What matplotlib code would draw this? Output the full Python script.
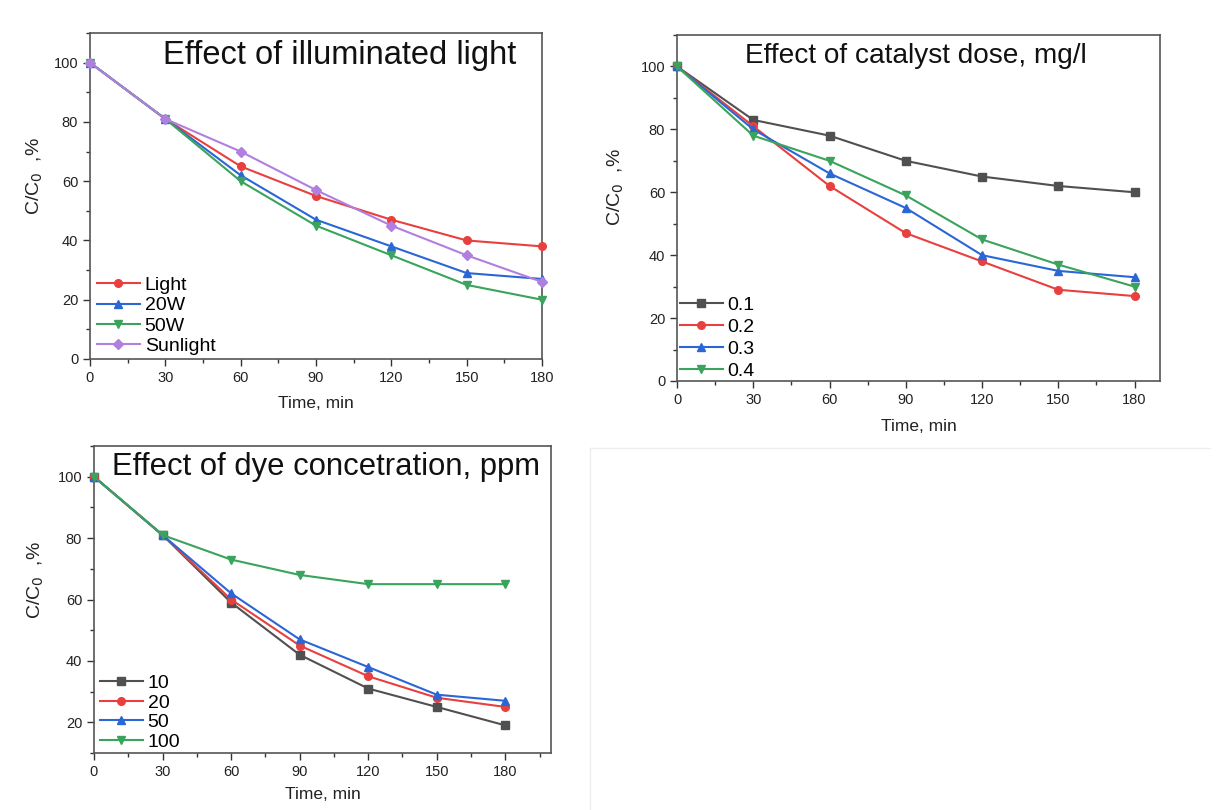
import matplotlib.pyplot as plt
from matplotlib.ticker import MultipleLocator
from matplotlib.lines import Line2D

# reaction time, min
time = [0, 30, 60, 90, 120, 150, 180]

# effect of illuminated light
light = [100, 81, 65, 55, 47, 40, 38]
w20 = [100, 81, 62, 47, 38, 29, 27]
w50 = [100, 81, 60, 45, 35, 25, 20]
sunlight = [100, 81, 70, 57, 45, 35, 26]

# effect of catalyst dose, mg/l
dose_01 = [100, 83, 78, 70, 65, 62, 60]
dose_02 = [100, 81, 62, 47, 38, 29, 27]
dose_03 = [100, 80, 66, 55, 40, 35, 33]
dose_04 = [100, 78, 70, 59, 45, 37, 30]

# effect of dye concentration, ppm
ppm_10 = [100, 81, 59, 42, 31, 25, 19]
ppm_20 = [100, 81, 60, 45, 35, 28, 25]
ppm_50 = [100, 81, 62, 47, 38, 29, 27]
ppm_100 = [100, 81, 73, 68, 65, 65, 65]

GREY = '#505050'
RED = '#e8403f'
BLUE = '#2a66d6'
GREEN = '#3aa35c'
PURPLE = '#b07fe0'

plt.rcParams['font.family'] = ['Liberation Sans', 'DejaVu Sans']

fig = plt.figure(figsize=(12.19, 8.10), dpi=100)

# faint separators seen in the source image
fig.add_artist(Line2D([590/1219, 1210/1219], [1 - 448/810, 1 - 448/810], color='#eeeeee', lw=1))
fig.add_artist(Line2D([590/1219, 590/1219], [0, 1 - 448/810], color='#eeeeee', lw=1))


def style_axes(ax, xmax, ymin, lx, ly, xpad):
    ax.set_xlim(0, xmax)
    ax.set_ylim(ymin, 110)
    ax.set_xticks(time)
    ax.xaxis.set_minor_locator(MultipleLocator(15))
    ax.set_yticks([v for v in range(0, 101, 20) if v >= ymin])
    ax.yaxis.set_minor_locator(MultipleLocator(10))
    ax.tick_params(which='both', direction='out', top=False, right=False,
                   colors='#333333', labelsize=10.5, labelcolor='#222222')
    ax.tick_params(which='major', length=5, width=1)
    ax.tick_params(which='minor', length=3, width=1)
    for s in ax.spines.values():
        s.set_color('#555555')
        s.set_linewidth(1.2)
    ax.set_xlabel('Time, min', fontsize=12.5, color='#222222', labelpad=xpad)
    ax.set_ylabel('C/C$_0$  ,%', fontsize=14, color='#222222', va='center')
    ax.yaxis.set_label_coords(lx, ly)


def draw(ax, series, title, tx, ty, tsize, lspace, lx, ly):
    for vals, lab, col, mk in series:
        ax.plot(time, vals, color=col, marker=mk, markersize=5.5, lw=1.5,
                label=lab, clip_on=False, zorder=3)
    ax.text(tx, ty, title, transform=ax.transAxes, fontsize=tsize,
            ha='center', va='center', color='#111111')
    ax.legend(loc='lower left', frameon=False, fontsize=14, handlelength=2.2,
              handletextpad=0.25, labelspacing=lspace, borderaxespad=0,
              borderpad=0, bbox_to_anchor=(lx, ly))


ax1 = fig.add_axes([90/1219, 1 - 359/810, 452/1219, 326/810])
style_axes(ax1, 180, 0, -0.122, 0.561, 8)
draw(ax1, [(light, 'Light', RED, 'o'), (w20, '20W', BLUE, '^'),
           (w50, '50W', GREEN, 'v'), (sunlight, 'Sunlight', PURPLE, 'D')],
     'Effect of illuminated light', 0.553, 0.932, 23.5, 0.14, 0.0155, 0.012)

ax2 = fig.add_axes([677/1219, 1 - 381/810, 483/1219, 346/810])
style_axes(ax2, 190, 0, -0.126, 0.56, 9)
draw(ax2, [(dose_01, '0.1', GREY, 's'), (dose_02, '0.2', RED, 'o'),
           (dose_03, '0.3', BLUE, '^'), (dose_04, '0.4', GREEN, 'v')],
     'Effect of catalyst dose, mg/l', 0.494, 0.94, 20.2, 0.22, 0.006, 0.004)

ax3 = fig.add_axes([94/1219, 1 - 753/810, 457/1219, 307/810])
style_axes(ax3, 200, 10, -0.127, 0.563, 6)
draw(ax3, [(ppm_10, '10', GREY, 's'), (ppm_20, '20', RED, 'o'),
           (ppm_50, '50', BLUE, '^'), (ppm_100, '100', GREEN, 'v')],
     'Effect of dye concetration, ppm', 0.508, 0.933, 22.3, 0.1, 0.013, 0.007)

fig.savefig('out.png', dpi=100)
